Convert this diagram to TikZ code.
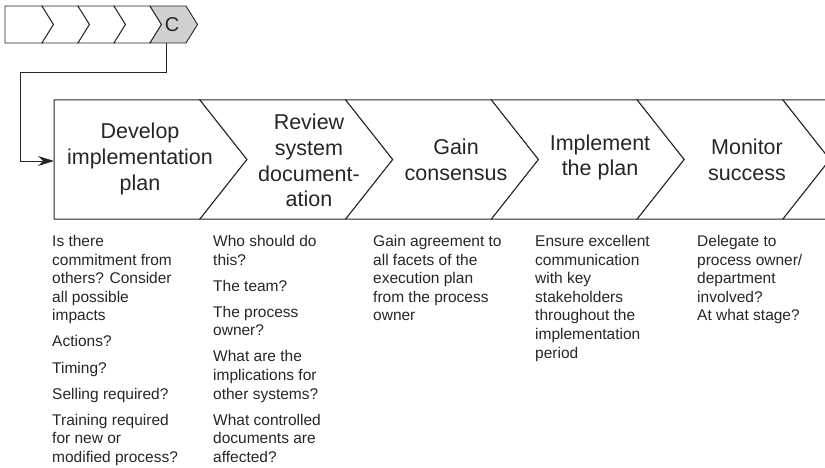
\documentclass[tikz,border=0pt]{standalone}
\usepackage{fontspec}
\setmainfont{Liberation Sans}
\usepackage{tikz}
\usetikzlibrary{arrows.meta,positioning,calc}
\definecolor{inkgrey}{HTML}{262626}
\definecolor{stepgrey}{HTML}{D0D0D0}
\newcommand{\headfont}{\fontsize{21.5}{25.8}\selectfont}
\newcommand{\notefont}{\fontsize{15.5}{18.6}\selectfont}
\tikzset{
  >={Stealth[length=16pt,width=10pt]},
  % chevrons
  chev/.style={draw=inkgrey,line width=1pt,line join=miter,fill=white},
  minichev/.style={draw=inkgrey,line width=0.9pt,line join=miter,fill=white},
  current/.style={fill=stepgrey},
  stage/.style={font=\headfont,align=center,inner sep=0pt,text=inkgrey},
  % texts
  note/.style={font=\notefont,align=left,anchor=north west,inner sep=0pt,text=inkgrey},
  flow/.style={->,draw=inkgrey,line width=0.9pt},
}

\begin{document}
\begin{tikzpicture}[x=1pt,y=-1pt]
  \useasboundingbox (0,0) rectangle (825,468);
  % small process bar
  \draw[minichev] (5,6) -- (42,6) -- (53.5,24.5) -- (42,43) -- (5,43) -- cycle;
  \foreach \x in {42,78,114}
    \draw[minichev] (\x,6) -- ++(36,0) -- ++(11.5,18.5) -- ++(-11.5,18.5)
      -- ++(-36,0) -- ++(11.5,-18.5) -- cycle;
  \draw[minichev,current] (150,6) -- ++(36,0) -- ++(11.5,18.5) -- ++(-11.5,18.5)
      -- ++(-36,0) -- ++(11.5,-18.5) -- cycle;
  \node[font=\fontsize{20}{22}\selectfont,text=inkgrey,inner sep=0pt] (c) at (172,25) {C};
  % main chevrons
  \draw[chev] (54,100) -- (200,100) -- (247,159.5) -- (200,219) -- (54,219) -- cycle;
  \foreach \x in {200,345.75,491.5,637.25,783}
    \draw[chev] (\x,100) -- ++(145.75,0) -- ++(47,59.5) -- ++(-47,59.5)
      -- ++(-145.75,0) -- ++(47,-59.5) -- cycle;
  \node[stage] (dev) at (140,159) {Develop\\implementation\\plan};
  \node[stage] (rev) at (309,160.5) {Review\\system\\document-\\ation};
  \node[stage] (gain) at (456,160) {Gain\\consensus};
  \node[stage] (impl) at (600,157.5) {Implement\\the plan};
  \node[stage] (mon) at (747,159.5) {Monitor\\success};
  % link from C
  \coordinate (cfoot) at (166,43);
  \coordinate (knee) at (20,72);
  \coordinate (entry) at (54,161);
  \draw[flow] (cfoot) |- (knee) |- (entry);
  % questions
  \node[note] (devq) at (52,235) {Is there\\commitment from\\others? Consider\\all possible\\impacts\\[7.5pt]
    Actions?\\[7.5pt]Timing?\\[7.5pt]Selling required?\\[7.5pt]Training required\\for new or\\modified process?};
  \node[note] (revq) at (213,235) {Who should do\\this?\\[7.5pt]The team?\\[7.5pt]The process\\owner?\\[7.5pt]
    What are the\\implications for\\other systems?\\[7.5pt]What controlled\\documents are\\affected?};
  \node[note] (gainq) at (373,235) {Gain agreement to\\all facets of the\\execution plan\\from the process\\owner};
  \node[note] (implq) at (535,235) {Ensure excellent\\communication\\with key\\stakeholders\\throughout the\\implementation\\period};
  \node[note] (monq) at (697,235) {Delegate to\\process owner/\\department\\involved?\\At what stage?};
\end{tikzpicture}
\end{document}
